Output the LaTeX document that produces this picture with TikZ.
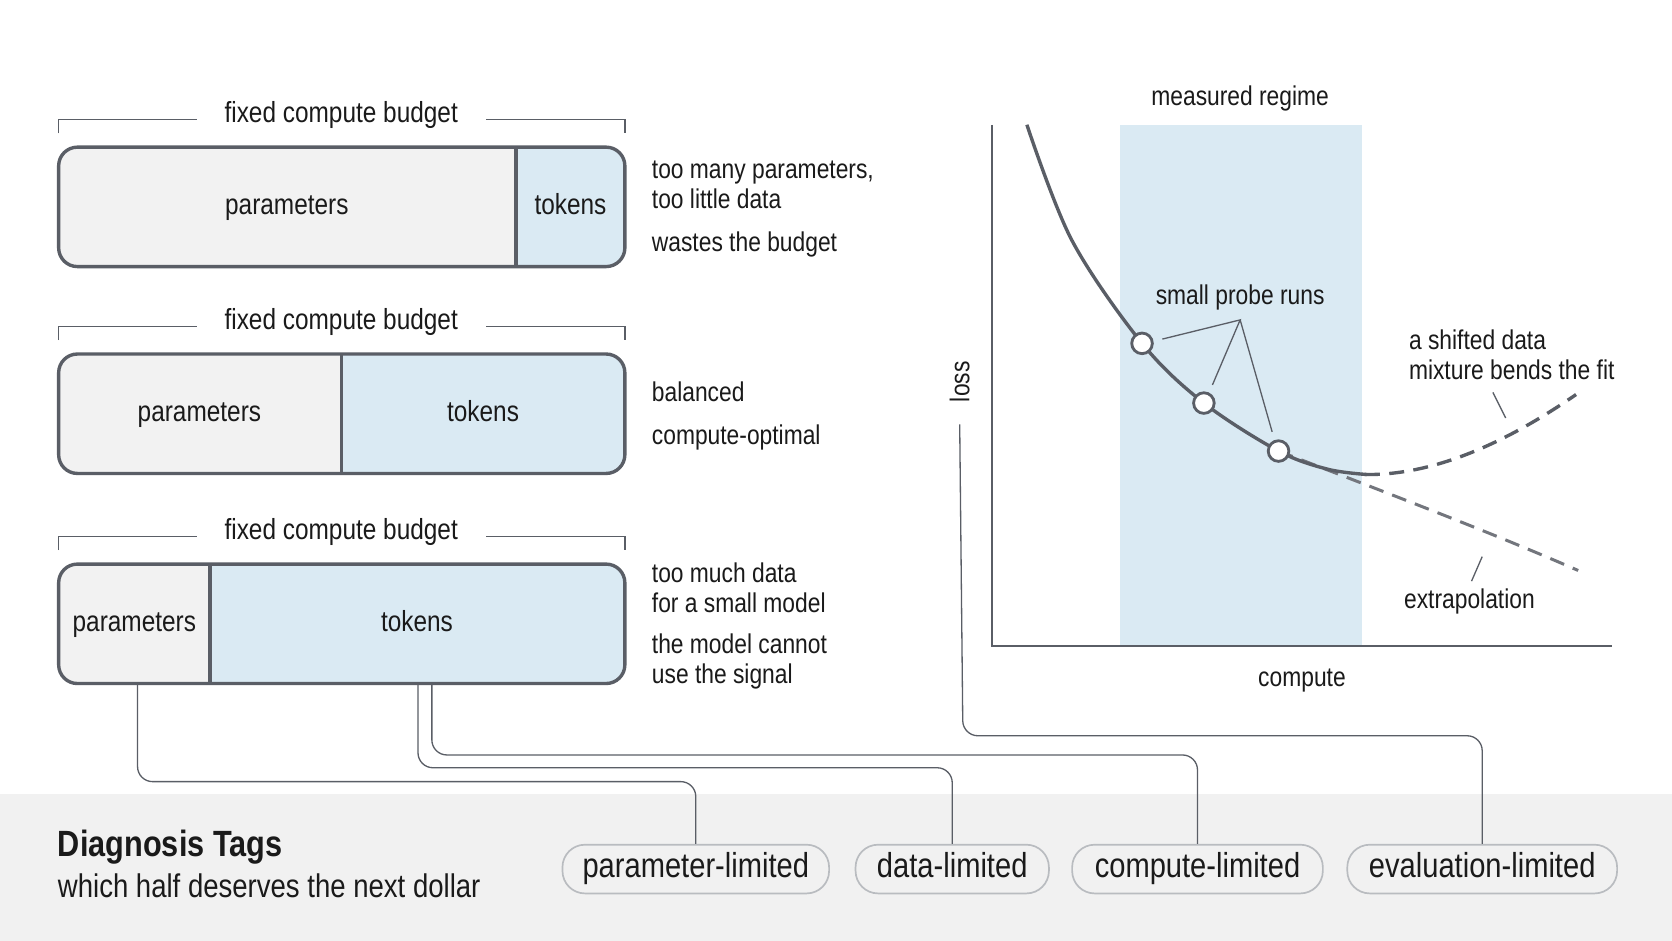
\documentclass[tikz,border=0pt]{standalone}
\usepackage{fontspec}
\setmainfont{Liberation Sans}[FakeStretch=0.84]
\begin{document}
\begin{tikzpicture}[x=0.02cm,y=-0.02cm,
  frame/.style={draw=edge,line width=1.8pt,rounded corners=10pt},
  lbl/.style={font=\fontsize{15.5}{18}\selectfont,text=ink,text height=1.95ex,text depth=.4ex},
  side/.style={font=\fontsize{14.5}{16}\selectfont,text=ink,anchor=west,align=left,inner sep=0},
  brk/.style={draw=edge,line width=0.7pt},
  pill/.style={draw=pillb,line width=0.9pt,fill=band,rounded corners=12pt,minimum height=26pt,inner xsep=6pt,font=\fontsize{18.5}{21}\selectfont,text=ink,text height=2.1ex,text depth=.4ex},
  conn/.style={draw=edge,line width=0.7pt,rounded corners=8pt},
  probe/.style={circle,draw=edge,fill=white,line width=1.5pt,minimum size=11pt,inner sep=0}]
\definecolor{ink}{HTML}{1A1A1A}
\definecolor{edge}{HTML}{5A5E66}
\definecolor{lite}{HTML}{F2F2F2}
\definecolor{blu}{HTML}{DAEAF3}
\definecolor{band}{HTML}{F1F1F1}
\definecolor{pillb}{HTML}{B9BCC0}
\useasboundingbox (0,0) rectangle (1568,882);
\fill[white] (0,0) rectangle (1568,882);
\fill[band] (0,745) rectangle (1568,882);
% bars
\foreach \y/\s/\n in {138/484/a,332/320/b,529/197/c}{
  \begin{scope}
  \clip[rounded corners=10pt] (55,\y) rectangle (586,\y+112);
  \fill[lite] (55,\y) rectangle (\s,\y+112);
  \fill[blu] (\s,\y) rectangle (586,\y+112);
  \end{scope}
  \draw[edge,line width=1.8pt] (\s,\y) -- (\s,\y+112);
  \draw[frame] (55,\y) rectangle (586,\y+112);
  \node[lbl] (bud\n) at (320,\y-30) {fixed compute budget};
  \draw[brk] (55,\y-13) -- (55,\y-26) -- (185,\y-26);
  \draw[brk] (456,\y-26) -- (586,\y-26) -- (586,\y-13);
}
\node[lbl] (p1) at (269,194) {parameters};
\node[lbl] (t1) at (535,194) {tokens};
\node[lbl] (p2) at (187,388) {parameters};
\node[lbl] (t2) at (453,388) {tokens};
\node[lbl] (p3) at (126,585) {parameters};
\node[lbl] (t3) at (391,585) {tokens};
\coordinate (b3) at (129,641);
\coordinate (b3t) at (392,641);
\coordinate (b3u) at (405,641);
% side notes
\node[side] (s1) at (611,173) {too many parameters,\\too little data};
\node[side] (s1b) at (611,229) {wastes the budget};
\node[side] (s2) at (611,367) {balanced};
\node[side] (s2b) at (611,410) {compute-optimal};
\node[side] (s3) at (611,551) {too much data\\for a small model};
\node[side] (s3b) at (611,620) {the model cannot\\use the signal};
% chart
\fill[blu] (1050,117) rectangle (1277,606);
\draw[edge,line width=1pt] (930,117) -- (930,606) -- (1512,606);
\node[side,anchor=center] (mr) at (1163,92) {measured regime};
\node[side,anchor=center] (cx) at (1221,638) {compute};
\node[side,anchor=center,rotate=90] (loss) at (900,358) {loss};
\draw[edge!85,line width=1.6pt,dash pattern=on 8pt off 5pt] (1199,423) .. controls (1300,462) and (1400,500) .. (1480,535);
\draw[edge,line width=1.8pt,dash pattern=on 8pt off 5pt] (1280,445) .. controls (1350,446) and (1420,410) .. (1478,370);
\draw[edge,line width=1.8pt] plot[smooth,tension=0.55] coordinates {(963,117)(1005,225)(1071,322)(1129,378)(1199,423)(1245,440)(1282,445)};
\node[side,anchor=center] (spr) at (1163,279) {small probe runs};
\coordinate (sp) at (1163,300);
\node[probe] (r1) at (1071,322) {};
\node[probe] (r2) at (1129,378) {};
\node[probe] (r3) at (1199,423) {};
\draw[edge,line width=0.7pt] (1090,318) -- (sp) -- (1137,361) (sp) -- (1193,405);
\node[side] (shift) at (1321,333) {a shifted data\\mixture bends the fit};
\draw[edge,line width=0.7pt] (1400,368) -- (1412,392);
\node[side,anchor=center] (ext) at (1378,564) {extrapolation};
\draw[edge,line width=0.7pt] (1380,545) -- (1390,522);
% bottom
\node[anchor=west,inner sep=0,font=\fontsize{19.5}{22}\selectfont\bfseries,text=ink] (dt) at (54,794) {Diagnosis Tags};
\node[anchor=west,inner sep=0,font=\fontsize{17.5}{20}\selectfont,text=ink] (dts) at (54,831) {which half deserves the next dollar};
\node[pill,minimum width=251*0.567pt] (pl) at (652.5,815) {parameter-limited};
\node[pill,minimum width=182*0.567pt] (dl) at (893,815) {data-limited};
\node[pill,minimum width=236*0.567pt] (cl) at (1123,815) {compute-limited};
\node[pill,minimum width=254*0.567pt] (el) at (1390,815) {evaluation-limited};
\draw[conn] (b3) -- (129,733) -- (pl.north |- 0,733) -- (pl.north);
\draw[conn] (b3t) -- (392,720) -- (dl.north |- 0,720) -- (dl.north);
\draw[conn] (b3u) -- (405,708) -- (cl.north |- 0,708) -- (cl.north);
\draw[conn] (loss.east |- 0,398) -- (903,690) -- (el.north |- 0,690) -- (el.north);
\end{tikzpicture}
\end{document}
